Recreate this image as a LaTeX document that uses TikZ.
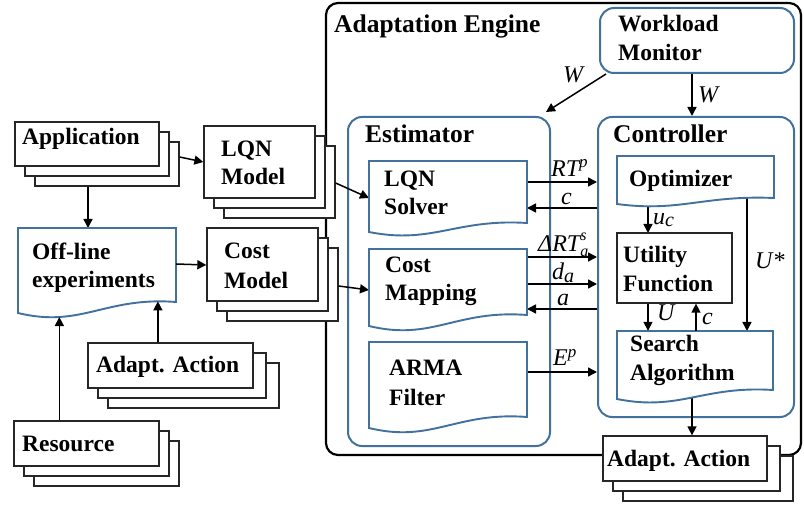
\documentclass[tikz,border=0pt]{standalone}
\usepackage{fontspec}
\setmainfont{Liberation Serif}
\usetikzlibrary{arrows.meta,fit,calc}

\definecolor{frameblue}{RGB}{65,113,156}

\tikzset{
  stk/.style={draw=black!85, line width=1.3pt, fill=white, inner sep=0pt},
  cont/.style={draw=frameblue, line width=2pt, fill=white, rounded corners=14pt, inner sep=0pt},
  docsh/.style={draw=frameblue, line width=1.9pt, fill=white},
  arr/.style={-{Triangle[length=9pt,width=9pt]}, line width=1.5pt},
  bt/.style={font=\fontsize{23.5}{28}\selectfont\bfseries, anchor=base west, inner sep=0pt},
  ttl/.style={font=\fontsize{25.5}{30}\selectfont\bfseries, anchor=base west, inner sep=0pt},
  itl/.style={font=\fontsize{24}{28}\selectfont\itshape, anchor=base west, inner sep=0pt},
}

% three stacked boxes: name, front box corners, extra width of back copies
\newcommand\stackset[6]{%
  \node[stk, fit={(#2+20,#3+20)(#4+20+2*#6,#5+20)}] (#1-c) {};
  \node[stk, fit={(#2+10,#3+10)(#4+10+#6,#5+10)}] (#1-b) {};
  \node[stk, fit={(#2,#3)(#4,#5)}] (#1) {};
}
% document shape with wavy bottom: name, x1, y1, x2, right bottom, left bottom
\newcommand\docshape[6]{%
  \path[docsh] (#2,#3) -- (#4,#3) -- (#4,#5)
    .. controls ({#4-0.45*(#4-#2)},{#5-0.5*(#6-#5)}) and ({#2+0.4*(#4-#2)},{#6+1.4*(#6-#5)}) ..
    coordinate[pos=0.09] (#1-wr) coordinate[pos=0.75] (#1-wl) (#2,#6) -- cycle;
  \node[inner sep=0pt, fit={(#2,#3)(#4,#5)}] (#1) {};
}
\newcommand\sm[1]{{\fontsize{17}{17}\selectfont #1}}
\newcommand\tn[1]{{\fontsize{16}{16}\selectfont #1}}

\begin{document}
\begin{tikzpicture}[x=1pt, y=-1pt]
\useasboundingbox (0,0) rectangle (804,505);

% adaptation engine frame
\node[draw, line width=2.2pt, rounded corners=12pt, inner sep=0pt, fit={(326,3)(801,455)}] (engine) {};
\node[ttl] (t-engine) at (334,33) {Adaptation Engine};

% containers
\node[cont, fit={(600,8)(794,73)}] (wm) {};
\node[cont, fit={(348,117)(550,446)}] (est) {};
\node[cont, fit={(598,117)(794,417)}] (ctrl) {};

% stacked inputs
\stackset{app}{15}{122}{159}{166}{0}
\stackset{lqnm}{204}{126}{315}{198}{0}
\stackset{costm}{207}{228}{318}{301}{0}
\stackset{adl}{88}{343}{253}{388}{3}
\stackset{res}{14}{421}{159}{466}{0}
\stackset{adr}{603}{436}{767}{481}{3}

% connectors (drawn below the inner shapes)
\draw[arr] (app-c.east |- 0,157) -- (lqnm.west |- 0,162);
\draw[arr] (app-c.south -| 88,0) -- (88,228);
\draw[arr] (lqnm-c.east |- 0,183) -- (369,198);
\draw[arr] (costm-c.east |- 0,286) -- (369,290);
\draw[arr] (wm.south -| 606,0) -- ($(est.north east)+(-5,-4)$);
\draw[arr] (wm.south -| 692,0) -- (ctrl.north -| 692,0);
\draw[arr] (527,182) -- (ctrl.west |- 0,182);
\draw[arr] (ctrl.west |- 0,208) -- (527,208);
\draw[arr] (527,257) -- (ctrl.west |- 0,257);
\draw[arr] (527,284) -- (ctrl.west |- 0,284);
\draw[arr] (ctrl.west |- 0,309) -- (527,309);
\draw[arr] (527,372) -- (ctrl.west |- 0,372);
\draw[arr] (648,198) -- (648,233);
\draw[arr] (747,198) -- (747,331);
\draw[arr] (692,392) -- (adr.north -| 692,0);

% estimator parts
\docshape{lqns}{369}{161}{527}{223}{232}
\docshape{costmap}{369}{249}{527}{315}{326}
\docshape{arma}{369}{342}{527}{417}{428}
% controller parts
\docshape{opt}{617}{156}{774}{198}{204}
\docshape{search}{617}{331}{773}{390}{399}
\node[stk, fit={(617,233)(732,303)}] (util) {};
\draw[arr] (util.south -| 648,0) -- (search.north -| 648,0);
\draw[arr] (search.north -| 696,0) -- (util.south -| 696,0);

% off-line experiments
\docshape{offline}{18}{228}{176}{302}{313}
\draw[arr] (offline.east |- 0,264) -- (costm.west |- 0,265);
\draw[arr] (res.north -| offline-wl) -- (offline-wl);
\draw[arr] (adl.north -| offline-wr) -- (offline-wr);

% box texts
\node[bt] (t-app) at (22,145) {Application};
\node[bt] (t-lqnm1) at (221,157) {LQN};
\node[bt] (t-lqnm2) at (221,185) {Model};
\node[bt] (t-off1) at (32,260) {Off-line};
\node[bt] (t-off2) at (32,288) {experiments};
\node[bt] (t-cm1) at (224,259) {Cost};
\node[bt] (t-cm2) at (224,289) {Model};
\node[bt] (t-adl) at (96,373) {Adapt. Action};
\node[bt] (t-res) at (22,451) {Resource};
\node[bt] (t-wm1) at (618,32) {Workload};
\node[bt] (t-wm2) at (618,61) {Monitor};
\node[ttl] (t-est) at (365,143) {Estimator};
\node[ttl] (t-ctrl) at (613,143) {Controller};
\node[bt] (t-lqns1) at (384,187) {LQN};
\node[bt] (t-lqns2) at (384,215) {Solver};
\node[bt] (t-cmap1) at (385,273) {Cost};
\node[bt] (t-cmap2) at (385,301) {Mapping};
\node[bt] (t-arma1) at (389,376) {ARMA};
\node[bt] (t-arma2) at (389,405) {Filter};
\node[bt] (t-opt) at (629,187) {Optimizer};
\node[bt] (t-util1) at (623,263) {Utility};
\node[bt] (t-util2) at (623,292) {Function};
\node[bt] (t-srch1) at (630,352) {Search};
\node[bt] (t-srch2) at (630,381) {Algorithm};
\node[bt] (t-adr) at (607,466) {Adapt. Action};

% connector labels
\node[itl] (l-w1) at (563,83) {W};
\node[itl] (l-w2) at (698,103) {W};
\node[itl] (l-rt) at (551,177) {RT\raisebox{9pt}{\sm{p}}};
\node[itl] (l-c1) at (561,205) {c};
\node[itl] (l-drt) at (538,252) {ΔRT\rlap{\raisebox{11pt}{\tn{s}}}\raisebox{-5pt}{\tn{a}}};
\node[itl] (l-da) at (552,280) {d\raisebox{-2pt}{\fontsize{20}{20}\selectfont a}};
\node[itl] (l-a) at (557,306) {a};
\node[itl] (l-ep) at (553,366) {E\raisebox{9pt}{\sm{p}}};
\node[itl] (l-uc) at (653,225) {u\raisebox{-2pt}{\fontsize{20}{20}\selectfont c}};
\node[itl] (l-us) at (755,269) {U*};
\node[itl] (l-u) at (657,320) {U};
\node[itl] (l-c2) at (702,325) {c};
\end{tikzpicture}
\end{document}
